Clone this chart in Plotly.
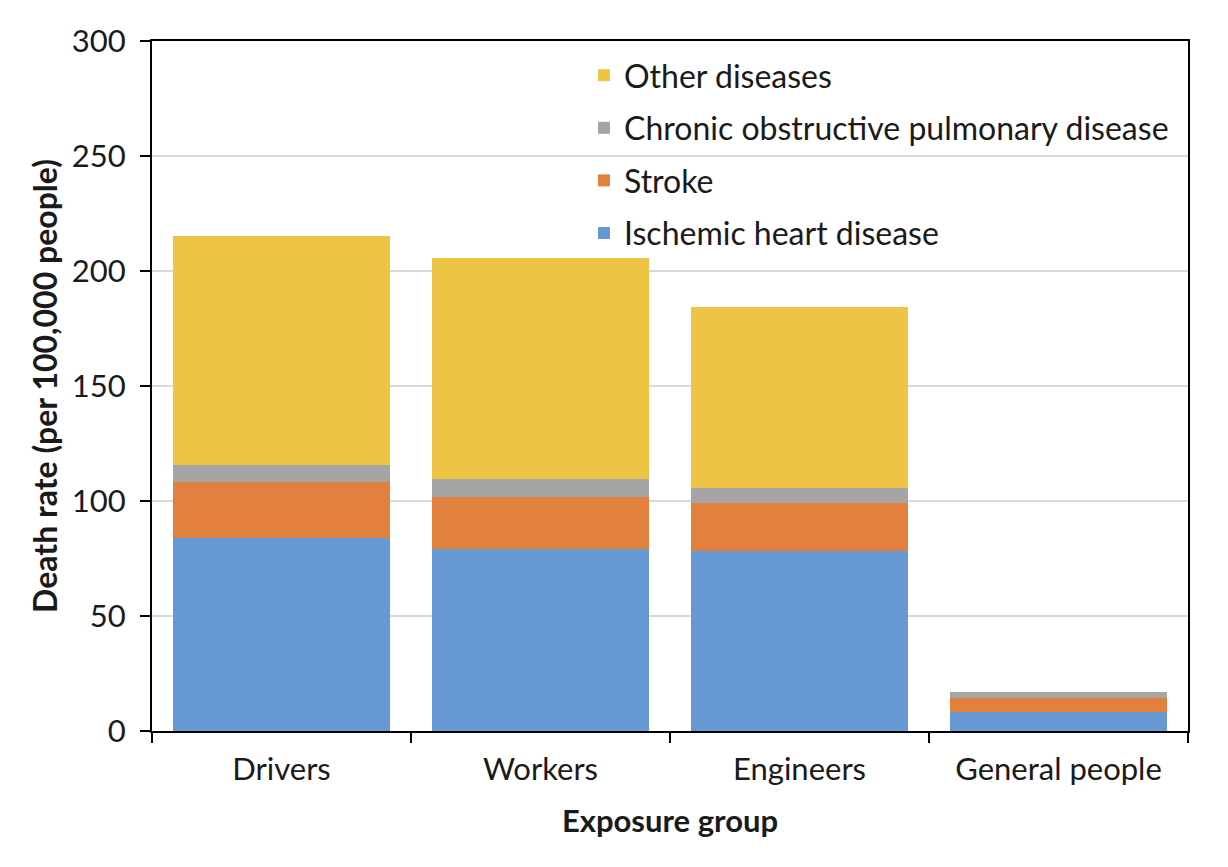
import plotly.graph_objects as go

categories = ["Drivers", "Workers", "Engineers", "General people"]
ischemic = [84.0, 79.0, 78.3, 8.3]
stroke = [24.1, 22.8, 21.0, 6.2]
copd = [7.6, 7.6, 6.2, 2.5]
other = [99.5, 96.2, 79.0, 0.0]

series = [
    ("Ischemic heart disease", ischemic, "#6699d3"),
    ("Stroke", stroke, "#e2803e"),
    ("Chronic obstructive pulmonary disease", copd, "#a5a5a5"),
    ("Other diseases", other, "#eec444"),
]

font_family = "Lato, Open Sans, sans-serif"

fig = go.Figure()
for i, (name, vals, col) in enumerate(series):
    fig.add_trace(go.Bar(
        x=categories, y=vals, name=name, marker_color=col,
        marker_line_width=0, legendgroup=name, legendrank=1000 - i,
    ))

fig.update_layout(
    barmode="stack",
    bargap=0.165,
    width=1228, height=867,
    paper_bgcolor="white", plot_bgcolor="white",
    margin=dict(l=144, r=48, t=33, b=144),
    font=dict(family=font_family, size=32, color="#1a1a1a"),
    legend=dict(
        x=0.417, y=0.99, xanchor="left", yanchor="top",
        traceorder="grouped", tracegroupgap=8,
        font=dict(size=32, color="#1a1a1a"), bgcolor="rgba(0,0,0,0)",
        itemwidth=30,
    ),
    showlegend=True,
)
fig.update_yaxes(
    range=[0, 300], dtick=50, showgrid=True, gridcolor="#d9d9d9", gridwidth=1.5,
    showline=True, linecolor="black", linewidth=2, mirror=True,
    ticks="outside", ticklen=10, tickwidth=2, tickcolor="black",
    tickfont=dict(size=31), ticklabelstandoff=8,
    title=dict(text="<b>Death rate (per 100,000 people)</b>", font=dict(size=32), standoff=5),
    zeroline=False,
)
fig.update_xaxes(
    showline=True, linecolor="black", linewidth=2, mirror=True,
    ticks="outside", tickson="boundaries", ticklen=10, tickwidth=2, tickcolor="black",
    tickfont=dict(size=31), ticklabelstandoff=10,
    title=dict(text="<b>Exposure group</b>", font=dict(size=31), standoff=24),
)

fig.write_html("out.html")
